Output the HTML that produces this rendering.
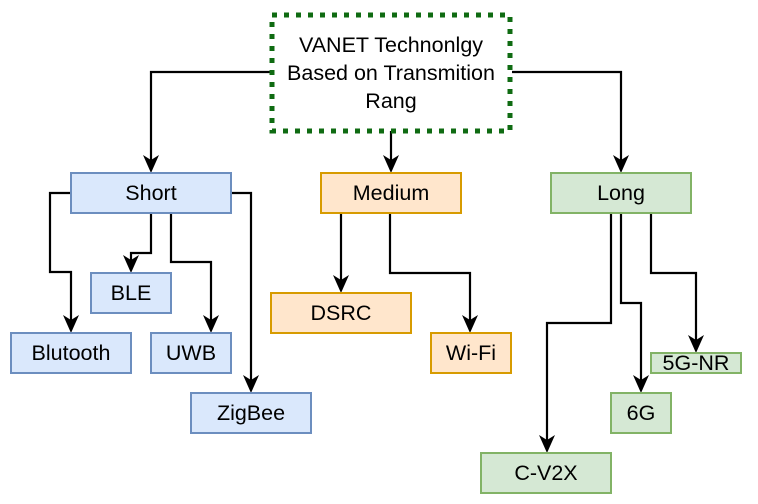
<!DOCTYPE html>
<html><head><meta charset="utf-8"><style>
html,body{margin:0;padding:0;background:#fff;width:758px;height:504px;overflow:hidden}
</style></head><body>
<svg width="758" height="504" viewBox="0 0 758 504" xmlns="http://www.w3.org/2000/svg">
<g fill="none" stroke="#000" stroke-width="2.2">
<polyline points="270,72 151,72 151,160"/>
<polyline points="391,131 391,160"/>
<polyline points="512,72 621,72 621,160"/>
<polyline points="71,193 50,193 50,272 71,272 71,320"/>
<polyline points="151,213 151,253 131,253 131,260"/>
<polyline points="171,213 171,262 211,262 211,320"/>
<polyline points="231,193 251,193 251,380"/>
<polyline points="341,213 341,280"/>
<polyline points="390,213 390,273 470,273 470,320"/>
<polyline points="611,213 611,323 547,323 547,440"/>
<polyline points="621,213 621,303 641,303 641,380"/>
<polyline points="651,213 651,273 696,273 696,340"/>
</g>
<g fill="#000">
<path d="M143,155 L151,173 L159,155 L151,160 Z"/>
<path d="M383,155 L391,173 L399,155 L391,160 Z"/>
<path d="M613,155 L621,173 L629,155 L621,160 Z"/>
<path d="M63,315 L71,333 L79,315 L71,320 Z"/>
<path d="M123,255 L131,273 L139,255 L131,260 Z"/>
<path d="M203,315 L211,333 L219,315 L211,320 Z"/>
<path d="M243,375 L251,393 L259,375 L251,380 Z"/>
<path d="M333,275 L341,293 L349,275 L341,280 Z"/>
<path d="M462,315 L470,333 L478,315 L470,320 Z"/>
<path d="M539,435 L547,453 L555,435 L547,440 Z"/>
<path d="M633,375 L641,393 L649,375 L641,380 Z"/>
<path d="M688,335 L696,353 L704,335 L696,340 Z"/>
</g>
<rect x="272" y="15" width="238" height="116" fill="#fff" stroke="#0f6b12" stroke-width="5" stroke-dasharray="5,7"/>
<g stroke-width="2">
<rect x="71" y="173" width="160" height="40" fill="#dae8fc" stroke="#6c8ebf"/>
<rect x="11" y="333" width="120" height="40" fill="#dae8fc" stroke="#6c8ebf"/>
<rect x="91" y="273" width="80" height="40" fill="#dae8fc" stroke="#6c8ebf"/>
<rect x="151" y="333" width="80" height="40" fill="#dae8fc" stroke="#6c8ebf"/>
<rect x="191" y="393" width="120" height="40" fill="#dae8fc" stroke="#6c8ebf"/>
<rect x="321" y="173" width="140" height="40" fill="#ffe6cc" stroke="#d79b00"/>
<rect x="271" y="293" width="140" height="40" fill="#ffe6cc" stroke="#d79b00"/>
<rect x="431" y="333" width="80" height="40" fill="#ffe6cc" stroke="#d79b00"/>
<rect x="551" y="173" width="140" height="40" fill="#d5e8d4" stroke="#82b366"/>
<rect x="651" y="353" width="90" height="20" fill="#d5e8d4" stroke="#82b366"/>
<rect x="611" y="393" width="60" height="40" fill="#d5e8d4" stroke="#82b366"/>
<rect x="481" y="453" width="130" height="40" fill="#d5e8d4" stroke="#82b366"/>
</g>
<g font-family="'Liberation Sans', Arial, sans-serif" font-size="21.5" fill="#000" text-anchor="middle">
<text x="391" y="52">VANET Technonlgy</text>
<text x="391" y="80">Based on Transmition</text>
<text x="391" y="108">Rang</text>
<text x="151" y="200">Short</text>
<text x="71" y="360">Blutooth</text>
<text x="131" y="300">BLE</text>
<text x="191" y="360">UWB</text>
<text x="251" y="420">ZigBee</text>
<text x="391" y="200">Medium</text>
<text x="341" y="320">DSRC</text>
<text x="471" y="360">Wi-Fi</text>
<text x="621" y="200">Long</text>
<text x="696" y="370">5G-NR</text>
<text x="641" y="420">6G</text>
<text x="546" y="480">C-V2X</text>
</g>
</svg>
</body></html>
